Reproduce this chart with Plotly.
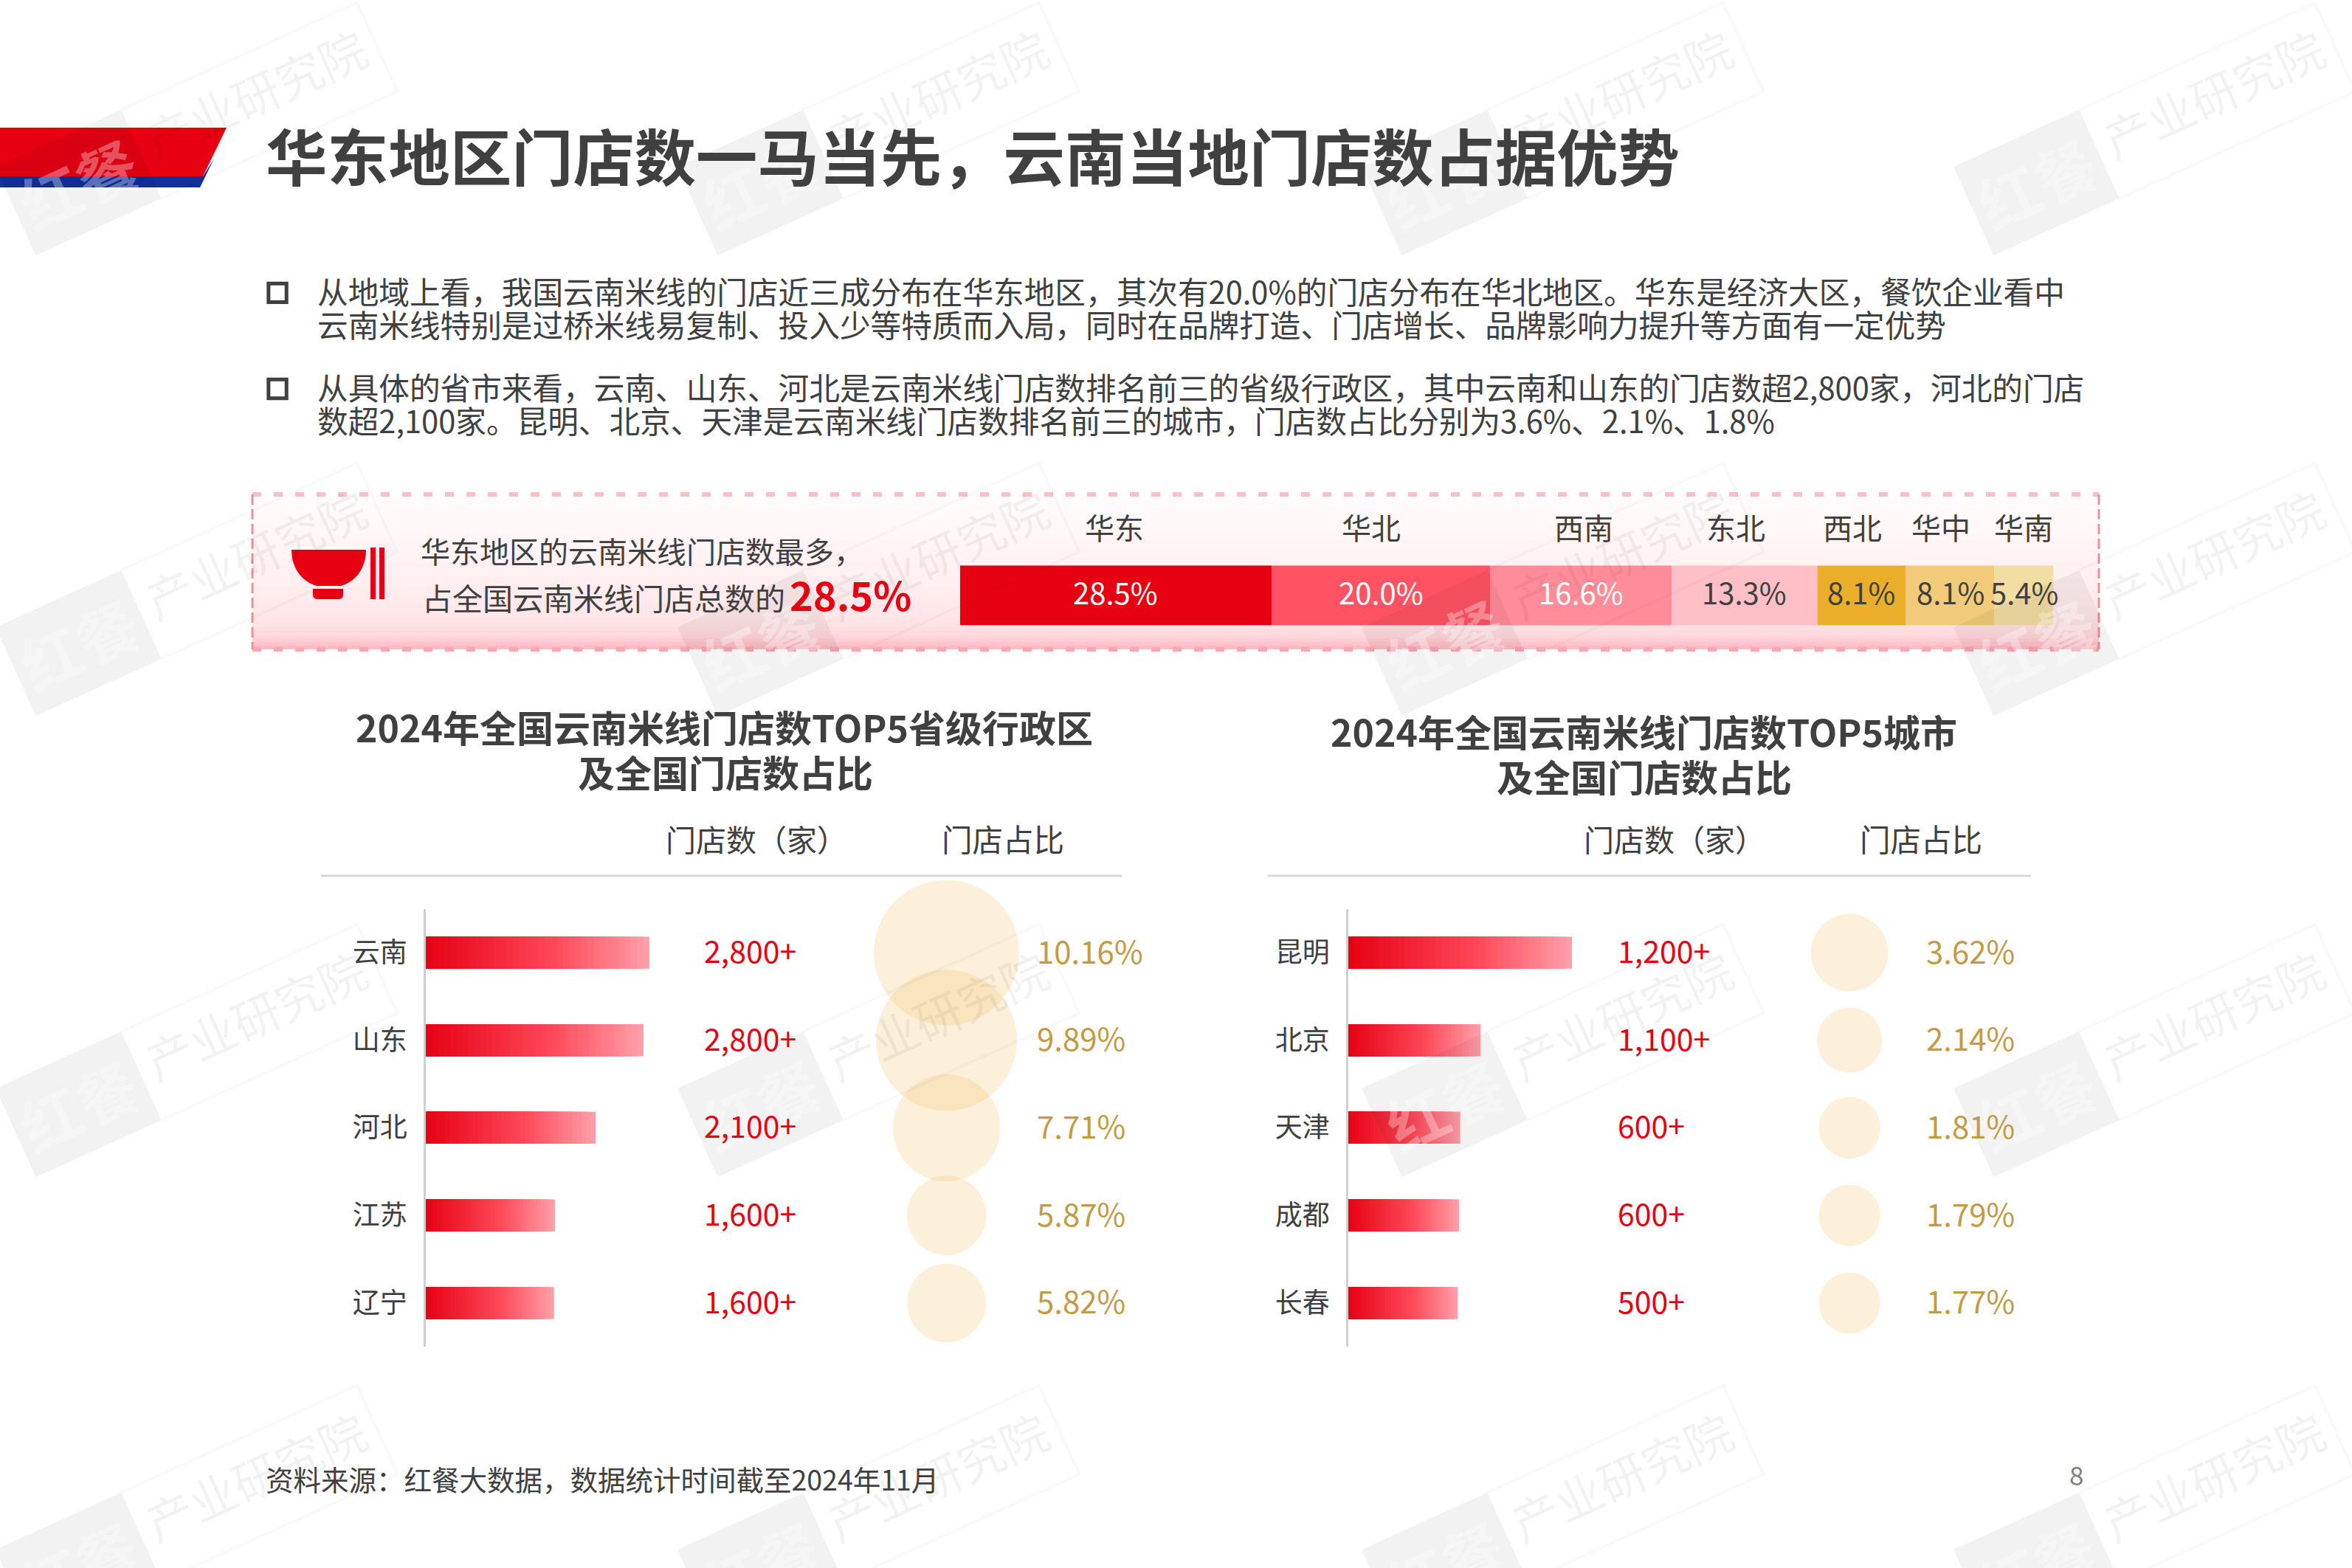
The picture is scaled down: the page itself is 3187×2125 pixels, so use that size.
import math
import plotly.graph_objects as go

W, H = 3187, 2125
S = W / 1568  # reference was measured on a 1568 wide view

FONT = "Noto Sans CJK SC"
DARK = "#404040"
RED = "#E60012"
GOLD = "#C49A45"

# stacked share bar
regions = ["华东", "华北", "西南", "东北", "西北", "华中", "华南"]
region_share = [28.5, 20.0, 16.6, 13.3, 8.1, 8.1, 5.4]

# top 5 provinces
provinces = ["云南", "山东", "河北", "江苏", "辽宁"]
province_stores = ["2,800+", "2,800+", "2,100+", "1,600+", "1,600+"]
province_share = [10.16, 9.89, 7.71, 5.87, 5.82]

# top 5 cities
cities = ["昆明", "北京", "天津", "成都", "长春"]
city_stores = ["1,200+", "1,100+", "600+", "600+", "500+"]
city_share = [3.62, 2.14, 1.81, 1.79, 1.77]

title = "华东地区门店数一马当先，云南当地门店数占据优势"
body_lines = [
    "从地域上看，我国云南米线的门店近三成分布在华东地区，其次有20.0%的门店分布在华北地区。华东是经济大区，餐饮企业看中",
    "云南米线特别是过桥米线易复制、投入少等特质而入局，同时在品牌打造、门店增长、品牌影响力提升等方面有一定优势",
    "从具体的省市来看，云南、山东、河北是云南米线门店数排名前三的省级行政区，其中云南和山东的门店数超2,800家，河北的门店",
    "数超2,100家。昆明、北京、天津是云南米线门店数排名前三的城市，门店数占比分别为3.6%、2.1%、1.8%",
]

REGION_COLORS = ["#E60012", "#FF5364", "#FF8D99", "#FFBFC6", "#EBAE2B", "#F1CB7A", "#F2DDA2"]
REGION_TEXT = ["white", "white", "white", DARK, DARK, DARK, DARK]
REGION_LABEL_X = [743, 914, 1056, 1157, 1235, 1294, 1349]


def hx(c):
    return tuple(int(c[i:i + 2], 16) for i in (1, 3, 5))


def ramp(stops, t):
    for (t0, c0), (t1, c1) in zip(stops, stops[1:]):
        if t <= t1:
            f = (t - t0) / (t1 - t0)
            a, b = hx(c0), hx(c1)
            return "rgb(%d,%d,%d)" % tuple(a[i] + (b[i] - a[i]) * f for i in range(3))
    return stops[-1][1]


def dom_x(a, b):
    return [a * S / W, b * S / W]


def dom_y(a, b):
    return [1 - b * S / H, 1 - a * S / H]


fig = go.Figure()
annotations = []
shapes = []


def label(text, x, y, size, color=DARK, anchor="left", weight=None, xref="x", yref="y", angle=0, yshift=0):
    annotations.append(dict(
        text=text, x=x, y=y, xref=xref, yref=yref, showarrow=False,
        xanchor=anchor, yanchor="middle", textangle=angle, yshift=yshift,
        font=dict(family=FONT, size=size, color=color, weight=weight),
    ))


def poly(points, color, layer="below"):
    path = "M" + " L".join("%.1f,%.1f" % p for p in points) + " Z"
    shapes.append(dict(type="path", path=path, xref="x", yref="y", layer=layer,
                       fillcolor=color, line=dict(width=0)))


def rect(x0, y0, x1, y1, color, layer="below"):
    shapes.append(dict(type="rect", x0=x0, y0=y0, x1=x1, y1=y1, xref="x", yref="y",
                       layer=layer, fillcolor=color, line=dict(width=0)))


def line(x0, y0, x1, y1, color, width, dash="solid", layer="below"):
    shapes.append(dict(type="line", x0=x0, y0=y0, x1=x1, y1=y1, xref="x", yref="y",
                       layer=layer, line=dict(color=color, width=width, dash=dash)))


# ---- watermark stamps, added first so real text sits on top of them
ANGLE = 24.4
ux, uy = math.cos(math.radians(ANGLE)), -math.sin(math.radians(ANGLE))
vx, vy = -uy, ux
STAMP_LEN, STAMP_H, BLOCK_LEN = 538, 132, 187


def stamp(ax, ay):
    def at(a, b):
        return (ax + ux * a + vx * b, ay + uy * a + vy * b)

    poly([at(0, 0), at(BLOCK_LEN, 0), at(BLOCK_LEN, STAMP_H), at(0, STAMP_H)], "rgba(0,0,0,0.05)", "above")
    outline = [at(BLOCK_LEN, 0), at(STAMP_LEN, 0), at(STAMP_LEN, STAMP_H), at(BLOCK_LEN, STAMP_H)]
    path = "M" + " L".join("%.1f,%.1f" % p for p in outline)
    shapes.append(dict(type="path", path=path, xref="x", yref="y", layer="above",
                       line=dict(color="rgba(0,0,0,0.025)", width=4)))
    cx, cy = at(BLOCK_LEN / 2, STAMP_H / 2)
    label("红餐", cx, cy, 82, "rgba(255,255,255,0.32)", anchor="center", weight="bold", angle=-ANGLE)
    cx, cy = at((BLOCK_LEN + STAMP_LEN) / 2, STAMP_H / 2 - 12)
    label("产业研究院", cx, cy, 64, "rgba(0,0,0,0.05)", anchor="center", angle=-ANGLE)


for ay in (226, 850, 1475, 2100):
    for ax in (-6, 918, 1845, 2647):
        stamp(ax, ay)

# ---- header banner and title
poly([(0, 173), (307, 173), (275, 239), (0, 239)], RED)
poly([(0, 239), (275, 239), (290, 215), (271, 254), (0, 254)], "#12309E")
label(title, 358, 208, 83.3, DARK, weight="bold")

# ---- bullets and body text
for ytop in (189, 253):
    shapes.append(dict(type="rect", x0=179 * S, x1=191 * S, y0=ytop * S, y1=(ytop + 12.5) * S,
                       xref="x", yref="y", layer="below", line=dict(color=DARK, width=5)))
for text, y in zip(body_lines, (194, 216, 258, 280)):
    label(text, 210.5 * S, y * S, 41.65, DARK)

# ---- dashed panel with soft pink fade
px0, py0, px1, py1 = 342, 670, 2844, 880
panel_stops = [(0, "#FFFDFD"), (0.5, "#FFF1F3"), (0.8, "#FFE6E9"), (0.92, "#FFDADE"), (1, "#FFBAC3")]
slices = 42
for i in range(slices):
    ya = py0 + (py1 - py0) * i / slices
    yb = py0 + (py1 - py0) * (i + 1) / slices + 1
    rect(px0, ya, px1, min(yb, py1), ramp(panel_stops, i / (slices - 1)))
line(px0, py0, px1, py0, "#FFBEC6", 6, "12px,17px")
line(px0, py1, px1, py1, "#FBA6B1", 6, "12px,17px")
line(px0, py0, px0, py1, "#F58C9B", 3, "14px,6px")
line(px1, py0, px1, py1, "#F58C9B", 3, "14px,6px")

# bowl and chopsticks
shapes.append(dict(type="path", xref="x", yref="y", layer="below", fillcolor=RED, line=dict(width=0),
                   path="M395,745 L496,745 C496,772 480,789 462,794 L429,794 C411,789 395,772 395,745 Z"))
shapes.append(dict(type="path", xref="x", yref="y", layer="below", fillcolor=RED, line=dict(width=0),
                   path="M424,798 L465,798 L465,806 Q465,812 458,812 L431,812 Q424,812 424,806 Z"))
rect(502, 742, 509, 812, RED)
rect(514, 742, 521, 812, RED)

label("华东地区的云南米线门店数最多，", 279.5 * S, 367 * S, 40, DARK)
label("占全国云南米线门店总数的", 280.5 * S, 398 * S, 41, DARK)
label("28.5%", 525.5 * S, 396 * S, 54, RED, weight="bold")

# ---- stacked share bar
base = 0
for name, share, color, tcolor, lx in zip(regions, region_share, REGION_COLORS, REGION_TEXT, REGION_LABEL_X):
    fig.add_trace(go.Bar(
        x=[share], y=["share"], base=[base], orientation="h", width=1,
        marker=dict(color=color, line=dict(width=0)),
        xaxis="x2", yaxis="y2", hoverinfo="skip", showlegend=False,
    ))
    label("%.1f%%" % share, base + share / 2, "share", 40, tcolor, anchor="center",
          xref="x2", yref="y2", yshift=5)
    base += share
    label(name, lx * S, 351.5 * S, 40, DARK, anchor="center")

# ---- the two ranking tables
BAR_STOPS = [(0, "#E60012"), (0.6, "#FF4A5A"), (1, "#FF9EA8")]
STEPS = 36


def ranking(names, stores, share, x_axis, y_axis, bubble_axis, store_x, pct_x, top_px, bubble_power):
    # overlaid bars, longest and palest first, give the fade without seams
    for k in range(STEPS):
        t = 1 - k / STEPS
        fig.add_trace(go.Bar(
            x=[v * t for v in share], y=names, orientation="h", width=0.365,
            marker=dict(color=ramp(BAR_STOPS, t), line=dict(width=0)),
            xaxis=x_axis, yaxis=y_axis, hoverinfo="skip", showlegend=False,
        ))
    top = share[0]
    fig.add_trace(go.Scatter(
        x=[0] * len(names), y=names, mode="markers", cliponaxis=False,
        marker=dict(size=[top_px * (v / top) ** bubble_power for v in share],
                    color="rgba(240,190,90,0.32)", line=dict(width=0)),
        xaxis=bubble_axis, yaxis=y_axis, hoverinfo="skip", showlegend=False,
    ))
    for name, st, v in zip(names, stores, share):
        label(st, store_x * S, name, 41, RED, yref=y_axis, yshift=4)
        label("%.2f%%" % v, pct_x * S, name, 42, GOLD, yref=y_axis, yshift=4)


ranking(provinces, province_stores, province_share, "x3", "y3", "x4", 468.5, 690.5, 197, 1.1)
ranking(cities, city_stores, city_share, "x5", "y5", "x6", 1077.5, 1283, 105, 0.33)

for text, y, cx in (("2024年全国云南米线门店数TOP5省级行政区", 484, 483), ("及全国门店数占比", 514, 483.5),
                    ("2024年全国云南米线门店数TOP5城市", 487, 1096), ("及全国门店数占比", 517, 1096)):
    label(text, cx * S, y * S, 50, DARK, anchor="center", weight="bold")

label("门店数（家）", 443 * S, 559 * S, 41, DARK)
label("门店占比", 627 * S, 559 * S, 41.5, DARK)
label("门店数（家）", 1055 * S, 559 * S, 41, DARK)
label("门店占比", 1239 * S, 559 * S, 41.5, DARK)
line(214 * S, 584 * S, 748 * S, 584 * S, "#D9D9D9", 3)
line(845 * S, 584 * S, 1354 * S, 584 * S, "#D9D9D9", 3)

# ---- footer
label("资料来源：红餐大数据，数据统计时间截至2024年11月", 176 * S, 985.5 * S, 37.5, DARK)
label("8", 1384 * S, 983 * S, 35, "#7F7F7F", anchor="center")

hidden = dict(visible=False, fixedrange=True)
row_ticks = dict(
    autorange=False, type="category", showgrid=False, zeroline=False,
    showline=True, linecolor="#CFCFCF", linewidth=3, ticks="", ticklabelstandoff=15,
    tickfont=dict(family=FONT, size=37, color=DARK), fixedrange=True,
)

fig.update_layout(
    width=W, height=H, margin=dict(l=0, r=0, t=0, b=0),
    paper_bgcolor="white", plot_bgcolor="rgba(0,0,0,0)",
    barmode="overlay", showlegend=False,
    font=dict(family=FONT, color=DARK),
    annotations=annotations, shapes=shapes,
    xaxis=dict(domain=[0, 1], range=[0, W], **hidden),
    yaxis=dict(domain=[0, 1], range=[H, 0], **hidden),
    xaxis2=dict(domain=dom_x(640, 1369), range=[0, sum(region_share)], anchor="y2", **hidden),
    yaxis2=dict(domain=dom_y(377, 417), range=[-0.5, 0.5], anchor="x2", type="category", **hidden),
    xaxis3=dict(domain=dom_x(284, 433), range=[0, province_share[0]], anchor="y3", **hidden),
    yaxis3=dict(domain=dom_y(606, 898), range=[4.5, -0.5], anchor="x3", **row_ticks),
    xaxis4=dict(domain=dom_x(611, 651), range=[-1, 1], anchor="y3", **hidden),
    xaxis5=dict(domain=dom_x(899, 1048), range=[0, city_share[0]], anchor="y5", **hidden),
    yaxis5=dict(domain=dom_y(606, 898), range=[4.5, -0.5], anchor="x5", **row_ticks),
    xaxis6=dict(domain=dom_x(1213, 1253), range=[-1, 1], anchor="y5", **hidden),
)

fig.write_html("out.html", config={"displayModeBar": False},
               post_script="document.body.style.margin='0';")
